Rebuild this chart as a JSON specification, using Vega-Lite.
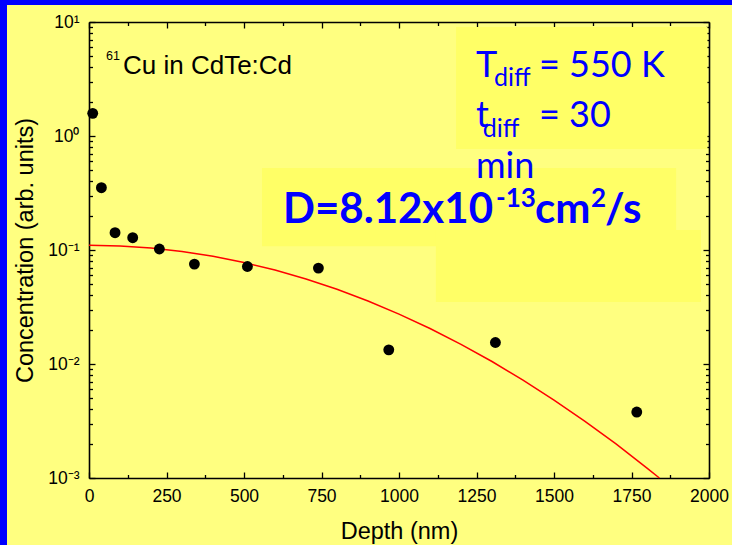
{
  "$schema": "https://vega.github.io/schema/vega-lite/v6.json",
  "width": 725,
  "height": 540,
  "autosize": {"type": "none"},
  "padding": {"left": 7, "top": 5, "right": 0, "bottom": 0},
  "background": "#0000ff",
  "config": {
    "view": {"fill": "#ffff80", "stroke": null},
    "axis": {
      "grid": false,
      "domainColor": "#000000",
      "domainWidth": 1.6,
      "tickColor": "#000000",
      "tickWidth": 1.3,
      "labelFont": "Liberation Sans",
      "labelFontSize": 17.5,
      "labelColor": "#000000",
      "labelOverlap": false,
      "labelFlush": false,
      "labelBound": false,
      "titleFont": "Liberation Sans",
      "titleFontSize": 23.5,
      "titleFontWeight": "normal",
      "titleColor": "#000000"
    }
  },
  "resolve": {"axis": {"x": "independent", "y": "independent"}},
  "layer": [
    {
      "data": {"values": [
        {"x1": 1184, "x2": 1995, "y1": 9.04, "y2": 0.769},
        {"x1": 558, "x2": 1894, "y1": 0.524, "y2": 0.108},
        {"x1": 1119, "x2": 1974, "y1": 0.1496, "y2": 0.035}
      ]},
      "mark": {"type": "rect", "color": "#ffff66"},
      "encoding": {
        "x": {
          "field": "x1", "type": "quantitative",
          "scale": {"domain": [0, 2000], "range": [82, 702], "nice": false, "zero": false},
          "axis": {
            "orient": "bottom", "offset": -67,
            "values": [0, 125, 250, 375, 500, 625, 750, 875, 1000, 1125, 1250, 1375, 1500, 1625, 1750, 1875, 2000],
            "format": "d",
            "labelExpr": "datum.value % 250 == 0 ? datum.label : ''",
            "tickSize": {"condition": {"test": "datum.value % 250 == 0", "value": -6}, "value": -3.5},
            "labelPadding": 15,
            "title": "Depth (nm)",
            "titlePadding": 12
          }
        },
        "x2": {"field": "x2"},
        "y": {
          "field": "y1", "type": "quantitative",
          "scale": {"type": "log", "domain": [0.001, 10], "range": [473, 17], "nice": false},
          "axis": {
            "orient": "left", "offset": -82,
            "values": [0.001, 0.002, 0.003, 0.004, 0.005, 0.006, 0.007, 0.008, 0.009, 0.01, 0.02, 0.03, 0.04, 0.05, 0.06, 0.07, 0.08, 0.09, 0.1, 0.2, 0.3, 0.4, 0.5, 0.6, 0.7, 0.8, 0.9, 1, 2, 3, 4, 5, 6, 7, 8, 9, 10],
            "labelExpr": "datum.value == 10 ? '10¹' : datum.value == 1 ? '10⁰' : datum.value == 0.1 ? '10⁻¹' : datum.value == 0.01 ? '10⁻²' : datum.value == 0.001 ? '10⁻³' : ''",
            "tickSize": {"condition": {"test": "datum.value == 10 || datum.value == 1 || datum.value == 0.1 || datum.value == 0.01 || datum.value == 0.001", "value": -6}, "value": -3.5},
            "labelPadding": 16,
            "title": "Concentration (arb. units)",
            "titlePadding": 10
          }
        },
        "y2": {"field": "y2"}
      }
    },
    {
      "data": {"values": [
        {"depth": 0, "conc": 0.11},
        {"depth": 100, "conc": 0.1085},
        {"depth": 200, "conc": 0.104},
        {"depth": 300, "conc": 0.0971},
        {"depth": 400, "conc": 0.0881},
        {"depth": 500, "conc": 0.0777},
        {"depth": 600, "conc": 0.0667},
        {"depth": 700, "conc": 0.0557},
        {"depth": 800, "conc": 0.0452},
        {"depth": 900, "conc": 0.0357},
        {"depth": 1000, "conc": 0.0274},
        {"depth": 1100, "conc": 0.0205},
        {"depth": 1200, "conc": 0.01489},
        {"depth": 1300, "conc": 0.01052},
        {"depth": 1400, "conc": 0.00723},
        {"depth": 1500, "conc": 0.00483},
        {"depth": 1600, "conc": 0.00314},
        {"depth": 1700, "conc": 0.00199},
        {"depth": 1800, "conc": 0.00122},
        {"depth": 1840, "conc": 0.001}
      ]},
      "mark": {"type": "line", "color": "#ff0000", "strokeWidth": 1.5},
      "encoding": {
        "x": {"field": "depth", "type": "quantitative", "axis": null},
        "y": {"field": "conc", "type": "quantitative", "axis": null}
      }
    },
    {
      "data": {"values": [
        {"depth": 12, "conc": 1.58},
        {"depth": 40, "conc": 0.352},
        {"depth": 84, "conc": 0.1418},
        {"depth": 141, "conc": 0.1282},
        {"depth": 227, "conc": 0.102},
        {"depth": 340, "conc": 0.0752},
        {"depth": 511, "conc": 0.0717},
        {"depth": 740, "conc": 0.0694},
        {"depth": 967, "conc": 0.01332},
        {"depth": 1311, "conc": 0.01544},
        {"depth": 1767, "conc": 0.00379}
      ]},
      "mark": {"type": "circle", "color": "#000000", "opacity": 1, "size": 118},
      "encoding": {
        "x": {
          "field": "depth", "type": "quantitative",
          "axis": {
            "orient": "top", "offset": -17,
            "values": [0, 125, 250, 375, 500, 625, 750, 875, 1000, 1125, 1250, 1375, 1500, 1625, 1750, 1875, 2000],
            "labels": false,
            "tickSize": {"condition": {"test": "datum.value % 250 == 0", "value": -6}, "value": -3.5},
            "title": null
          }
        },
        "y": {
          "field": "conc", "type": "quantitative",
          "axis": {
            "orient": "right", "offset": -23,
            "values": [0.001, 0.002, 0.003, 0.004, 0.005, 0.006, 0.007, 0.008, 0.009, 0.01, 0.02, 0.03, 0.04, 0.05, 0.06, 0.07, 0.08, 0.09, 0.1, 0.2, 0.3, 0.4, 0.5, 0.6, 0.7, 0.8, 0.9, 1, 2, 3, 4, 5, 6, 7, 8, 9, 10],
            "labels": false,
            "tickSize": {"condition": {"test": "datum.value == 10 || datum.value == 1 || datum.value == 0.1 || datum.value == 0.01 || datum.value == 0.001", "value": -6}, "value": -3.5},
            "title": null
          }
        }
      }
    },
    {
      "data": {"values": [{"depth": 54.8, "conc": 4.64, "label": "61"}]},
      "mark": {"type": "text", "font": "Liberation Sans", "fontSize": 12.5, "align": "left", "baseline": "alphabetic", "color": "#000000"},
      "encoding": {
        "x": {"field": "depth", "type": "quantitative", "axis": null},
        "y": {"field": "conc", "type": "quantitative", "axis": null},
        "text": {"field": "label"}
      }
    },
    {
      "data": {"values": [{"depth": 109.7, "conc": 3.5, "label": "Cu in CdTe:Cd"}]},
      "mark": {"type": "text", "font": "Liberation Sans", "fontSize": 26, "align": "left", "baseline": "alphabetic", "color": "#000000"},
      "encoding": {
        "x": {"field": "depth", "type": "quantitative", "axis": null},
        "y": {"field": "conc", "type": "quantitative", "axis": null},
        "text": {"field": "label"}
      }
    },
    {
      "data": {"values": [
        {"depth": 1248.4, "conc": 3.293, "label": "T"},
        {"depth": 1451.6, "conc": 3.293, "label": "= 550 K"},
        {"depth": 1248.4, "conc": 1.199, "label": "t"},
        {"depth": 1451.6, "conc": 1.199, "label": "= 30"},
        {"depth": 1248.4, "conc": 0.428, "label": "min"}
      ]},
      "mark": {"type": "text", "font": "Lato", "fontSize": 36, "align": "left", "baseline": "alphabetic", "color": "#0000ff"},
      "encoding": {
        "x": {"field": "depth", "type": "quantitative", "axis": null},
        "y": {"field": "conc", "type": "quantitative", "axis": null},
        "text": {"field": "label"}
      }
    },
    {
      "data": {"values": [
        {"depth": 1306.5, "conc": 2.745, "label": "diff"},
        {"depth": 1270, "conc": 0.98, "label": "diff"}
      ]},
      "mark": {"type": "text", "font": "Lato", "fontSize": 25, "align": "left", "baseline": "alphabetic", "color": "#0000ff"},
      "encoding": {
        "x": {"field": "depth", "type": "quantitative", "axis": null},
        "y": {"field": "conc", "type": "quantitative", "axis": null},
        "text": {"field": "label"}
      }
    },
    {
      "data": {"values": [
        {"depth": 625.8, "conc": 0.1725, "label": "D=8.12x10"},
        {"depth": 1438.7, "conc": 0.1725, "label": "cm"},
        {"depth": 1664.5, "conc": 0.1725, "label": "/s"}
      ]},
      "mark": {"type": "text", "font": "Lato", "fontSize": 42, "fontWeight": "bold", "align": "left", "baseline": "alphabetic", "color": "#0000ff"},
      "encoding": {
        "x": {"field": "depth", "type": "quantitative", "axis": null},
        "y": {"field": "conc", "type": "quantitative", "axis": null},
        "text": {"field": "label"}
      }
    },
    {
      "data": {"values": [
        {"depth": 1312.9, "conc": 0.2383, "label": "-13"},
        {"depth": 1619.4, "conc": 0.2383, "label": "2"}
      ]},
      "mark": {"type": "text", "font": "Lato", "fontSize": 26, "fontWeight": "bold", "align": "left", "baseline": "alphabetic", "color": "#0000ff"},
      "encoding": {
        "x": {"field": "depth", "type": "quantitative", "axis": null},
        "y": {"field": "conc", "type": "quantitative", "axis": null},
        "text": {"field": "label"}
      }
    }
  ]
}
